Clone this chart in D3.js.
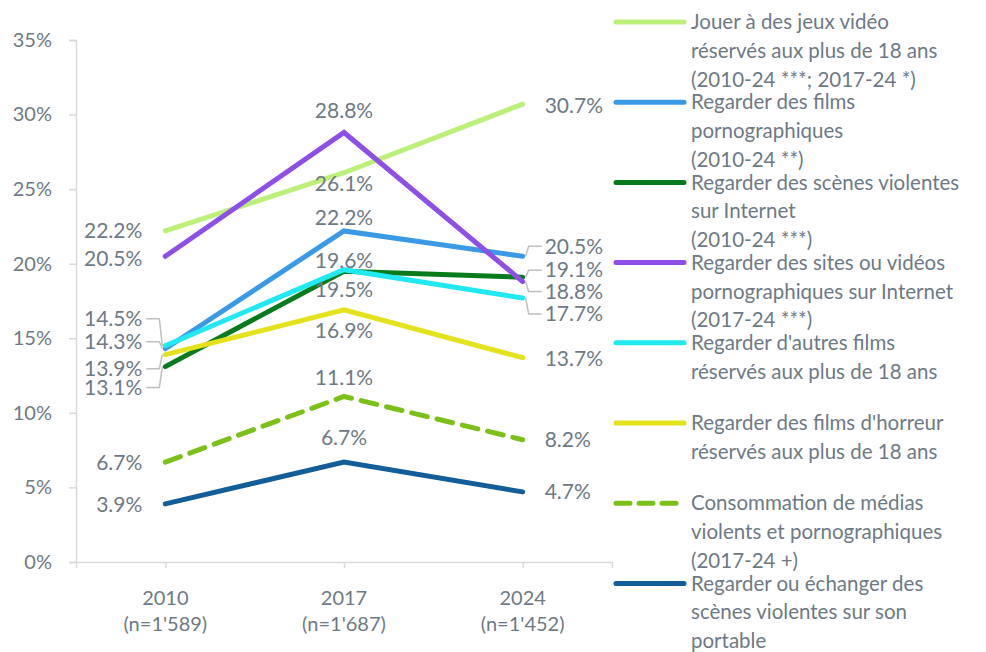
<!DOCTYPE html>
<html>
<head>
<meta charset="utf-8">
<script src="https://cdn.jsdelivr.net/npm/d3@7"></script>
<style>
  html, body { margin: 0; padding: 0; background: #fff; }
  svg { display: block; font-family: Lato, "Open Sans", sans-serif; }
</style>
</head>
<body>
<div id="chart"></div>
<script>
// ---- data ----
const years = ["2010", "2017", "2024"];
const sampleSizes = ["(n=1'589)", "(n=1'687)", "(n=1'452)"];
const yTicks = [0, 5, 10, 15, 20, 25, 30, 35];

const jeuxVideo18 = [22.2, 26.1, 30.7];
const filmsPorno = [14.3, 22.2, 20.5];
const scenesViolentesInternet = [13.1, 19.5, 19.1];
const sitesPornoInternet = [20.5, 28.8, 18.8];
const autresFilms18 = [14.5, 19.6, 17.7];
const filmsHorreur18 = [13.9, 16.9, 13.7];
const mediasViolentsPorno = [6.7, 11.1, 8.2];
const scenesViolentesPortable = [3.9, 6.7, 4.7];

const legendLabels = [
  ["Jouer à des jeux vidéo", "réservés aux plus de 18 ans", "(2010-24 ***; 2017-24 *)"],
  ["Regarder des films", "pornographiques", "(2010-24 **)"],
  ["Regarder des scènes violentes", "sur Internet", "(2010-24 ***)"],
  ["Regarder des sites ou vidéos", "pornographiques sur  Internet", "(2017-24 ***)"],
  ["Regarder d'autres films", "réservés aux plus de 18 ans"],
  ["Regarder des films d'horreur", "réservés aux plus de 18 ans"],
  ["Consommation de médias", "violents et pornographiques", "(2017-24 +)"],
  ["Regarder ou échanger des", "scènes violentes sur son", "portable"]
];

const seriesValues = [
  jeuxVideo18, filmsPorno, scenesViolentesInternet, sitesPornoInternet,
  autresFilms18, filmsHorreur18, mediasViolentsPorno, scenesViolentesPortable
];

// ---- styling ----
const colors = ["#bdf07a", "#3a9ae6", "#087c1c", "#8d4fe6", "#22e8f2", "#e4e21c", "#7cc11a", "#135e98"];
const dashed = [false, false, false, false, false, false, true, false];

// label offsets per point: dy from the point (px), leader = draw a connector
const labelLayout = [
  [{ dy: 0 }, { dy: 11 }, { dy: 2 }],
  [{ dy: -7, leader: true }, { dy: -13 }, { dy: -10, leader: true }],
  [{ dy: 21, leader: true }, { dy: 18 }, { dy: -7, leader: true }],
  [{ dy: 2 }, { dy: -22 }, { dy: 10, leader: true }],
  [{ dy: -27, leader: true }, { dy: -9 }, { dy: 16, leader: true }],
  [{ dy: 14, leader: true }, { dy: 21 }, { dy: 1 }],
  [{ dy: 1 }, { dy: -19 }, { dy: 0 }],
  [{ dy: 1 }, { dy: -24 }, { dy: 0 }]
];

const textColor = "#6e7a86";
const axisColor = "#d9d9d9";
const leaderColor = "#bfbfbf";

const width = 986, height = 652;
const plot = { left: 76, right: 612, top: 40, bottom: 562 };

const svg = d3.select("#chart").append("svg")
  .attr("width", width)
  .attr("height", height);

const x = d3.scalePoint()
  .domain(years)
  .range([plot.left, plot.right])
  .padding(0.5);

const y = d3.scaleLinear()
  .domain([0, 35])
  .range([plot.bottom, plot.top]);

// y axis
const yAxisG = svg.append("g")
  .attr("transform", `translate(${plot.left},0)`)
  .call(d3.axisLeft(y).tickValues(yTicks).tickSize(7).tickPadding(17).tickFormat(d => d + "%"));
yAxisG.select(".domain").attr("stroke", axisColor).attr("stroke-width", 1.5);
yAxisG.selectAll(".tick line").attr("stroke", axisColor).attr("stroke-width", 1.5);
yAxisG.selectAll(".tick text")
  .attr("fill", textColor)
  .attr("font-size", "20px")
  .attr("font-family", "Lato, sans-serif");

// x axis
const xAxisG = svg.append("g")
  .attr("transform", `translate(0,${plot.bottom})`)
  .call(d3.axisBottom(x).tickSize(6).tickSizeOuter(6).tickFormat(""));
xAxisG.select(".domain").attr("stroke", axisColor).attr("stroke-width", 1.5);
xAxisG.selectAll(".tick line").attr("stroke", axisColor).attr("stroke-width", 1.5);

const xLabels = svg.append("g").selectAll("text")
  .data(years)
  .join("text")
  .attr("x", d => x(d))
  .attr("y", 598)
  .attr("text-anchor", "middle")
  .attr("fill", textColor)
  .attr("font-size", "20px");
xLabels.append("tspan").attr("x", d => x(d)).attr("dy", "0.35em").text(d => d);
xLabels.append("tspan").attr("x", d => x(d)).attr("dy", "1.3em").text((d, i) => sampleSizes[i]);

// lines
const line = d3.line()
  .x((d, i) => x(years[i]))
  .y(d => y(d));

svg.append("g").selectAll("path")
  .data(seriesValues)
  .join("path")
  .attr("d", d => line(d))
  .attr("fill", "none")
  .attr("stroke", (d, i) => colors[i])
  .attr("stroke-width", 5)
  .attr("stroke-linecap", "round")
  .attr("stroke-linejoin", "miter")
  .attr("stroke-dasharray", (d, i) => dashed[i] ? "16,10" : null);

// data labels
const labels = [];
seriesValues.forEach((vals, s) => {
  vals.forEach((v, i) => {
    labels.push({ s, i, v, ...labelLayout[s][i] });
  });
});

const labelX = d => {
  const px = x(years[d.i]);
  if (d.i === 0) return px - 23;
  if (d.i === 2) return px + 22;
  return px;
};
const anchor = d => d.i === 0 ? "end" : d.i === 2 ? "start" : "middle";

// leader lines
svg.append("g").selectAll("polyline")
  .data(labels.filter(d => d.leader))
  .join("polyline")
  .attr("points", d => {
    const px = x(years[d.i]);
    const py = y(d.v);
    const ly = py + d.dy;
    const dir = d.i === 0 ? -1 : 1;
    return [[px + dir * 19, ly], [px + dir * 6, ly], [px + dir * 3, py]].join(" ");
  })
  .attr("fill", "none")
  .attr("stroke", leaderColor)
  .attr("stroke-width", 1.5);

svg.append("g").selectAll("text")
  .data(labels)
  .join("text")
  .attr("x", labelX)
  .attr("y", d => y(d.v) + d.dy)
  .attr("dy", "0.35em")
  .attr("text-anchor", anchor)
  .attr("fill", textColor)
  .attr("font-size", "21px")
  .text(d => d.v.toFixed(1) + "%");

// legend
const legendG = svg.append("g").attr("transform", "translate(614,22)");
const entry = legendG.selectAll("g")
  .data(legendLabels)
  .join("g")
  .attr("transform", (d, i) => `translate(0,${i * 80.2})`);

entry.append("line")
  .attr("x1", 2).attr("x2", 70)
  .attr("y1", 0).attr("y2", 0)
  .attr("stroke", (d, i) => colors[i])
  .attr("stroke-width", 5)
  .attr("stroke-linecap", "round")
  .attr("stroke-dasharray", (d, i) => dashed[i] ? "14,9" : null);

entry.append("text")
  .attr("fill", textColor)
  .attr("font-size", "20.5px")
  .selectAll("tspan")
  .data(d => d)
  .join("tspan")
  .attr("x", 77)
  .attr("y", (d, i) => i * 28.8)
  .attr("dy", "0.35em")
  .text(d => d);
</script>
</body>
</html>
